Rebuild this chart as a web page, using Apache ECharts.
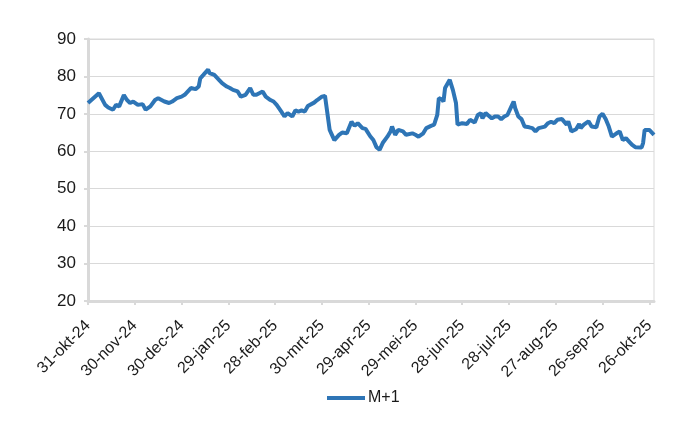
<!DOCTYPE html>
<html>
<head>
<meta charset="utf-8">
<script src="https://cdn.jsdelivr.net/npm/echarts@6/dist/echarts.min.js"></script>
<style>html,body{margin:0;padding:0;background:#fff;}#c{width:700px;height:430px;}</style>
</head>
<body>
<div id="c"></div>
<script>
// Day offsets from 31-okt-24 and M+1 values
const startDate = [2024, 9, 31];
const monthNames = ['jan','feb','mrt','apr','mei','jun','jul','aug','sep','okt','nov','dec'];
const tickDays = [0,30,60,90,120,150,180,210,240,270,300,330,360];
const yTicks = [20,30,40,50,60,70,80,90];
const seriesName = 'M+1';
const days = [0,1,7,8,11,13,16,18,20,23,25,27,29,32,33,35,37,40,43,45,49,52,54,57,60,62,66,69,71,72,74,75,77,78,81,84,86,89,91,93,96,98,101,104,106,108,112,114,115,117,119,121,124,126,128,131,133,135,137,139,141,145,147,148,150,152,153,155,156,158,161,163,166,169,171,173,176,178,181,183,185,187,189,192,194,195,197,199,202,204,208,210,212,215,217,220,222,224,225,227,228,229,232,234,236,237,240,243,245,248,250,252,253,255,257,259,261,263,265,267,269,272,273,274,276,278,280,283,285,287,289,290,293,295,297,299,301,304,305,307,308,310,313,315,316,318,321,323,326,328,330,332,334,336,339,341,343,345,347,349,351,355,356,357,360,361,363];
const values = [72.9,73.2,75.5,75.7,72.4,71.7,71.1,72.4,72.0,75.0,73.7,72.9,73.3,72.4,72.0,72.6,71.1,72.0,73.7,74.2,73.3,72.9,73.3,74.2,74.6,75.1,76.9,76.6,77.3,79.5,80.4,80.0,81.8,80.9,80.4,79.1,78.2,77.3,76.9,76.4,76.0,74.6,75.1,76.9,75.1,75.1,76.0,74.6,75.1,73.7,73.3,72.4,70.6,69.3,70.2,69.3,70.9,70.6,70.9,70.6,72.1,73.0,73.7,74.2,74.6,74.8,75.1,65.7,64.8,63.0,64.4,65.0,64.8,67.9,66.8,67.5,66.2,66.0,64.0,63.0,61.1,60.4,62.2,63.9,65.3,66.6,64.4,65.7,65.3,64.4,64.8,64.4,63.9,64.8,66.2,66.8,67.1,69.7,74.2,73.9,73.3,76.9,79.1,76.4,72.9,67.1,67.5,67.3,68.4,67.7,69.7,70.2,68.8,70.2,69.5,68.8,69.3,69.3,68.6,69.3,69.7,72.4,73.3,71.5,69.3,68.6,66.6,66.4,66.2,65.3,66.2,65.7,66.6,67.5,67.9,67.5,68.4,68.6,68.4,67.1,68.0,65.3,65.9,67.3,66.2,67.1,68.0,66.6,66.4,69.3,70.0,68.6,66.6,63.9,64.8,65.3,63.0,63.5,62.6,61.7,61.1,61.0,62.2,65.7,65.7,65.3,64.4];

function dayLabel(d) {
  const dt = new Date(Date.UTC(startDate[0], startDate[1], startDate[2]) + d * 86400000);
  const yy = String(dt.getUTCFullYear()).slice(2);
  return dt.getUTCDate() + '-' + monthNames[dt.getUTCMonth()] + '-' + yy;
}

const chart = echarts.init(document.getElementById('c'), null, {renderer: 'canvas'});
const font = 'Liberation Sans, Arial, Helvetica, sans-serif';
chart.setOption({
  animation: false,
  textStyle: {fontFamily: font},
  grid: {left: 88, right: 46, top: 39, bottom: 129, show: true, borderColor: '#d9d9d9', borderWidth: 1},
  xAxis: {
    type: 'value',
    min: tickDays[0],
    max: 363,
    interval: 30,
    axisLine: {show: true, lineStyle: {color: '#d9d9d9', width: 3}},
    axisTick: {show: true, length: 4, lineStyle: {color: '#d9d9d9', width: 2}, customValues: tickDays},
    axisLabel: {customValues: tickDays, rotate: 45, margin: 22, color: '#1a1a1a', fontSize: 16, fontFamily: font, formatter: dayLabel},
    splitLine: {show: false}
  },
  yAxis: {
    type: 'value',
    min: yTicks[0],
    max: yTicks[yTicks.length - 1],
    interval: 10,
    axisLine: {show: true, lineStyle: {color: '#d9d9d9', width: 3}},
    axisTick: {show: true, length: 4, lineStyle: {color: '#d9d9d9', width: 2}},
    axisLabel: {margin: 12, color: '#1a1a1a', fontSize: 17, fontFamily: font},
    splitLine: {show: true, lineStyle: {color: '#d9d9d9', width: 1}}
  },
  legend: {
    data: [seriesName],
    left: 322,
    top: 385,
    icon: 'rect',
    itemWidth: 38,
    itemHeight: 4,
    itemGap: 10,
    textStyle: {fontSize: 16, color: '#1a1a1a', fontFamily: font, padding: [0, 0, 0, -2]}
  },
  series: [{
    name: seriesName,
    type: 'line',
    showSymbol: false,
    symbol: 'none',
    smooth: false,
    lineStyle: {color: '#2e75b6', width: 4},
    itemStyle: {color: '#2e75b6'},
    data: days.map((d, i) => [d, values[i]])
  }]
});
</script>
</body>
</html>
